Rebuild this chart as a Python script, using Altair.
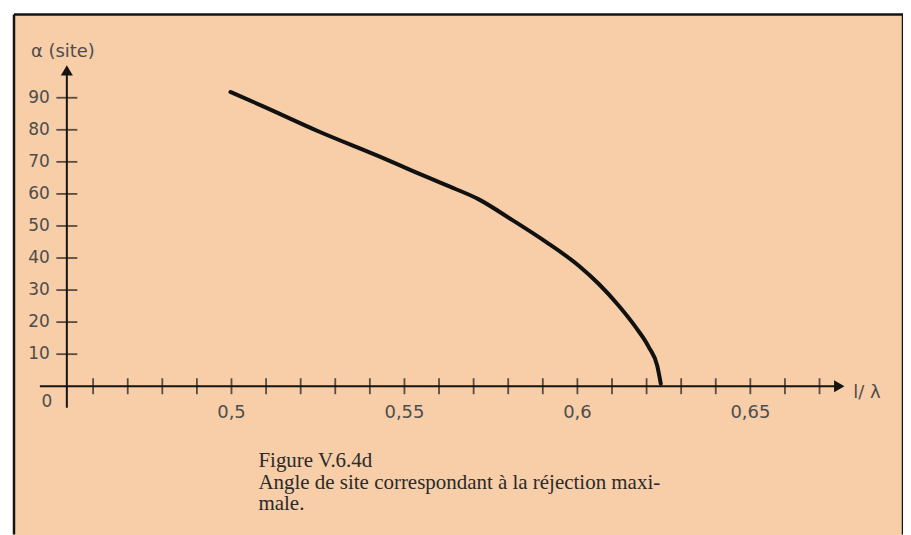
import altair as alt
import pandas as pd

# ---- data ----
ratio = [0.4997, 0.509, 0.5254, 0.5427, 0.5523, 0.5619, 0.5715, 0.5811,
         0.5908, 0.6004, 0.6062, 0.6119, 0.6168, 0.6206, 0.6231, 0.6241]
alpha = [91.8, 87.4, 79.4, 71.7, 67.2, 62.8, 58.3, 51.9,
         45.1, 37.6, 31.9, 25.2, 18.5, 12.3, 6.3, 0.8]

x_ticks = [0.46, 0.47, 0.48, 0.49, 0.50, 0.51, 0.52, 0.53, 0.54, 0.55, 0.56,
           0.57, 0.58, 0.59, 0.60, 0.61, 0.62, 0.63, 0.64, 0.65, 0.66, 0.67]
x_labels = [0.5, 0.55, 0.6, 0.65]
x_label_text = ["0,5", "0,55", "0,6", "0,65"]
y_ticks = [10, 20, 30, 40, 50, 60, 70, 80, 90]

x_origin = 0.4524
x_axis_start, x_axis_end = 0.4446, 0.676
y_axis_start, y_axis_end = -6.7, 98.0
x_arrow, y_arrow = 0.6757, 98.55

caption = ["Figure V.6.4d",
           "Angle de site correspondant à la réjection maxi-",
           "male."]

# ---- layout ----
W, H = 891, 521
PEACH = "#F7CEA8"
INK = "#141414"
GREY = "#4d4d4d"

xs = alt.Scale(domain=[0.43712, 0.69413], nice=False, zero=False)
ys = alt.Scale(domain=[-46.23, 115.95], nice=False, zero=False)


def X(field):
    return alt.X(field, type="quantitative", scale=xs, axis=None)


def Y(field):
    return alt.Y(field, type="quantitative", scale=ys, axis=None)


one = pd.DataFrame({"k": [0]})

# frame
frame_left = alt.Chart(one).mark_rule(color=INK, strokeWidth=2.5).encode(
    x=alt.value(0), y=alt.value(0), y2=alt.value(H))
frame_top = alt.Chart(one).mark_rule(color=INK, strokeWidth=2.5).encode(
    x=alt.value(0), x2=alt.value(W), y=alt.value(0))
frame_right = alt.Chart(one).mark_rule(color=INK, strokeWidth=2.5).encode(
    x=alt.value(W), y=alt.value(0), y2=alt.value(H))

# axes lines
xaxis_df = pd.DataFrame({"x": [x_axis_start], "x2": [x_axis_end], "y": [0]})
x_axis = alt.Chart(xaxis_df).mark_rule(color=INK, strokeWidth=2).encode(
    x=X("x"), x2="x2", y=Y("y"))
yaxis_df = pd.DataFrame({"x": [x_origin], "y": [y_axis_start], "y2": [y_axis_end]})
y_axis = alt.Chart(yaxis_df).mark_rule(color=INK, strokeWidth=2).encode(
    x=X("x"), y=Y("y"), y2="y2")

# ticks
xt_df = pd.DataFrame({"x": x_ticks, "y": [0] * len(x_ticks)})
x_tick_marks = alt.Chart(xt_df).mark_tick(
    orient="vertical", size=16, thickness=1.8, color=INK).encode(x=X("x"), y=Y("y"))
yt_df = pd.DataFrame({"x": [x_origin] * len(y_ticks), "y": y_ticks})
y_tick_marks = alt.Chart(yt_df).mark_tick(
    orient="horizontal", size=21, thickness=1.8, color=INK).encode(x=X("x"), y=Y("y"))

# arrows
up_df = pd.DataFrame({"x": [x_origin], "y": [y_arrow]})
up_arrow = alt.Chart(up_df).mark_point(
    shape="triangle-up", filled=True, size=144, color=INK, opacity=1).encode(x=X("x"), y=Y("y"))
right_df = pd.DataFrame({"x": [x_arrow], "y": [0]})
right_arrow = alt.Chart(right_df).mark_point(
    shape="triangle-right", filled=True, size=144, color=INK, opacity=1).encode(x=X("x"), y=Y("y"))

# curve
curve_df = pd.DataFrame({"ratio": ratio, "alpha": alpha})
curve = alt.Chart(curve_df).mark_line(
    color="#111111", strokeWidth=4, interpolate="monotone", strokeCap="round").encode(
    x=X("ratio"), y=Y("alpha"))

# tick labels
yl_df = pd.DataFrame({"x": [x_origin] * len(y_ticks), "y": y_ticks,
                      "t": [str(v) for v in y_ticks]})
y_lab = alt.Chart(yl_df).mark_text(
    align="right", baseline="middle", dx=-17, font="DejaVu Sans", fontSize=17,
    color=GREY).encode(x=X("x"), y=Y("y"), text="t:N")
xl_df = pd.DataFrame({"x": x_labels, "y": [0] * len(x_labels), "t": x_label_text})
x_lab = alt.Chart(xl_df).mark_text(
    align="center", baseline="middle", dy=27, font="DejaVu Sans", fontSize=18,
    color=GREY).encode(x=X("x"), y=Y("y"), text="t:N")

origin_df = pd.DataFrame({"x": [x_origin], "y": [0], "t": ["0"]})
origin_lab = alt.Chart(origin_df).mark_text(
    align="center", baseline="middle", dx=-20, dy=16, font="DejaVu Sans", fontSize=17,
    color=GREY).encode(x=X("x"), y=Y("y"), text="t:N")

ytitle_df = pd.DataFrame({"x": [x_origin], "y": [y_arrow], "t": ["α (site)"]})
y_title = alt.Chart(ytitle_df).mark_text(
    align="center", baseline="middle", dx=-4, dy=-18, font="DejaVu Sans", fontSize=18,
    color=GREY).encode(x=X("x"), y=Y("y"), text="t:N")

xtitle_df = pd.DataFrame({"x": [x_arrow], "y": [0], "t": ["l/ λ"]})
x_title = alt.Chart(xtitle_df).mark_text(
    align="left", baseline="middle", dx=14, dy=7, font="DejaVu Sans", fontSize=18,
    color=GREY).encode(x=X("x"), y=Y("y"), text="t:N")

cap_df = pd.DataFrame({"t": ["\n".join(caption)]})
cap = alt.Chart(cap_df).mark_text(
    align="left", baseline="alphabetic", lineBreak="\n", lineHeight=22,
    font="Liberation Serif", fontSize=21, color="#2a2a2a").encode(
    x=alt.value(245), y=alt.value(453), text="t:N")

chart = alt.layer(
    frame_left, frame_top, frame_right,
    x_axis, y_axis, x_tick_marks, y_tick_marks, up_arrow, right_arrow,
    curve, y_lab, x_lab, origin_lab, y_title, x_title, cap,
).properties(
    width=W, height=H,
    autosize=alt.AutoSizeParams(type="none"),
    padding={"left": 6, "top": 6, "right": 0, "bottom": 0},
    background="white",
).configure_view(fill=PEACH, stroke="transparent")

chart.save("out.html", embed_options={"renderer": "svg", "actions": False})
